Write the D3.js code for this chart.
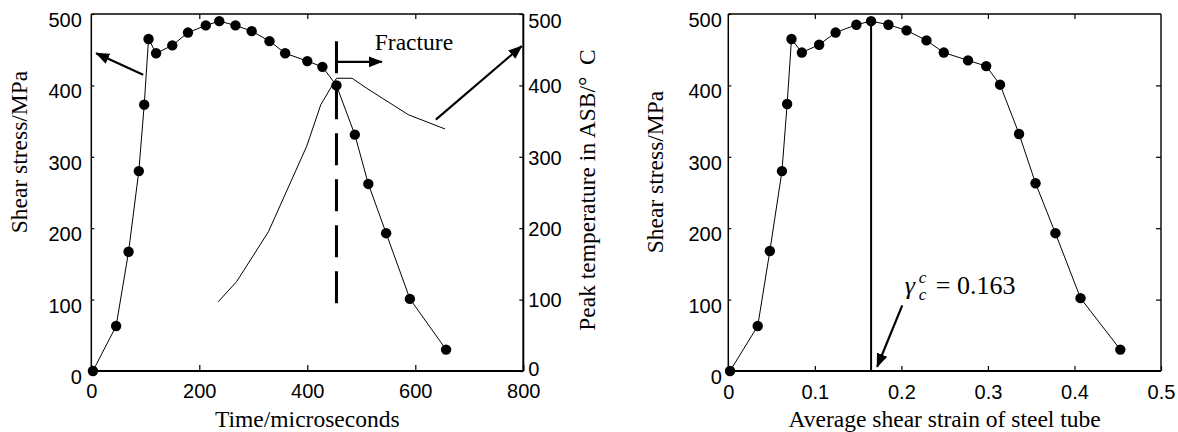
<!DOCTYPE html>
<html>
<head>
<meta charset="utf-8">
<script src="https://cdn.jsdelivr.net/npm/d3@7"></script>
<style>
  body { margin: 0; background: #fff; }
  .tick text { font-family: "Liberation Sans", Arial, sans-serif; font-size: 20px; fill: #000; }
  .title { font-family: "Liberation Serif", "Times New Roman", serif; font-size: 23.5px; fill: #000; }
</style>
</head>
<body>
<script>
// left panel: shear stress vs time, peak temperature vs time
const stressTime = [3, 46, 69, 88, 98, 106, 120, 150, 179, 212, 237, 267, 297, 330, 359, 400, 428, 454, 488, 513, 546, 590, 657];
const stressValue = [0, 63, 167, 280, 373, 465, 445, 456, 474, 484, 490, 484, 476, 462, 445, 434, 426, 400, 331, 262, 193, 101, 30];
const tempTime = [235, 269, 328, 399, 425, 454, 483, 510, 587, 655];
const tempValue = [97, 125, 195, 315, 373, 410, 410, 396, 359, 339];
const fractureTime = 454;

// right panel: shear stress vs average shear strain
const strain = [0.002, 0.034, 0.048, 0.062, 0.068, 0.073, 0.085, 0.105, 0.124, 0.148, 0.165, 0.185, 0.206, 0.229, 0.249, 0.277, 0.298, 0.314, 0.336, 0.355, 0.378, 0.407, 0.453];
const strainStress = [0, 63, 168, 280, 374, 465, 446, 457, 474, 485, 490, 485, 477, 463, 446, 435, 427, 401, 332, 263, 193, 102, 30];
const criticalStrain = 0.165;

const timeTicks = [0, 200, 400, 600, 800];
const stressTicks = [0, 100, 200, 300, 400, 500];
const strainTicks = [0, 0.1, 0.2, 0.3, 0.4, 0.5];

const svg = d3.select('body').append('svg')
  .attr('width', 1178)
  .attr('height', 432);

const defs = svg.append('defs');
defs.append('marker')
  .attr('id', 'head')
  .attr('markerUnits', 'userSpaceOnUse')
  .attr('markerWidth', 14)
  .attr('markerHeight', 11)
  .attr('refX', 13)
  .attr('refY', 5.5)
  .attr('orient', 'auto')
  .append('path')
  .attr('d', 'M0,0 L14,5.5 L0,11 Z')
  .attr('fill', '#000');

const plotTop = 14, plotBottom = 371;

// ---------- left panel ----------
const x1 = d3.scaleLinear().domain([0, 800]).range([91.3, 523.3]);
const y1 = d3.scaleLinear().domain([0, 500]).range([plotBottom, plotTop]);
const yT = d3.scaleLinear().domain([0, 500]).range([plotBottom, plotTop]);

function frame(g, x0, xe, strokeL, strokeB) {
  g.append('line').attr('x1', x0).attr('x2', xe).attr('y1', plotTop).attr('y2', plotTop)
    .attr('stroke', '#000').attr('stroke-width', 1.4);
  g.append('line').attr('x1', x0).attr('x2', xe).attr('y1', plotBottom).attr('y2', plotBottom)
    .attr('stroke', '#000').attr('stroke-width', strokeB);
  g.append('line').attr('x1', x0).attr('x2', x0).attr('y1', plotTop).attr('y2', plotBottom)
    .attr('stroke', '#000').attr('stroke-width', strokeL);
}

function styleAxis(g) {
  g.select('.domain').remove();
  g.selectAll('.tick line').attr('stroke', '#000').attr('stroke-width', 1.2);
}

const left = svg.append('g');
frame(left, x1(0), x1(800), 1.5, 2);
left.append('line').attr('x1', x1(800)).attr('x2', x1(800)).attr('y1', plotTop).attr('y2', plotBottom)
  .attr('stroke', '#000').attr('stroke-width', 2);

left.append('g')
  .attr('transform', `translate(0,${plotBottom})`)
  .call(d3.axisBottom(x1).tickValues(timeTicks).tickSizeInner(-6).tickSizeOuter(0).tickPadding(13))
  .call(styleAxis);
left.append('g')
  .attr('transform', `translate(0,${plotTop})`)
  .call(d3.axisTop(x1).tickValues(timeTicks.slice(1, -1)).tickSizeInner(-5).tickSizeOuter(0).tickFormat(''))
  .call(styleAxis);
left.append('g')
  .attr('transform', `translate(${x1(0)},0)`)
  .call(d3.axisLeft(y1).tickValues(stressTicks).tickSizeInner(-3).tickSizeOuter(0).tickPadding(9.5))
  .call(styleAxis)
  .selectAll('.tick text').attr('dy', '0.62em');
left.append('g')
  .attr('transform', `translate(${x1(800)},0)`)
  .call(d3.axisRight(yT).tickValues(stressTicks).tickSizeInner(-4).tickSizeOuter(0).tickPadding(5))
  .call(styleAxis)
  .selectAll('.tick text').attr('dy', d => d === 500 ? '0.66em' : (d === 0 ? '0.2em' : '0.36em'));

const line1 = d3.line().x((d, i) => x1(stressTime[i])).y(d => y1(d));
left.append('path')
  .datum(stressValue)
  .attr('d', line1)
  .attr('fill', 'none').attr('stroke', '#000').attr('stroke-width', 1);
left.selectAll('circle')
  .data(stressValue)
  .enter()
  .append('circle')
  .attr('cx', (d, i) => x1(stressTime[i]))
  .attr('cy', d => y1(d))
  .attr('r', 5.2)
  .attr('fill', '#000');

const lineT = d3.line().x((d, i) => x1(tempTime[i])).y(d => yT(d));
left.append('path')
  .datum(tempValue)
  .attr('d', lineT)
  .attr('fill', 'none').attr('stroke', '#000').attr('stroke-width', 1);

left.append('line')
  .attr('x1', x1(fractureTime)).attr('x2', x1(fractureTime))
  .attr('y1', y1(462)).attr('y2', y1(81))
  .attr('stroke', '#000').attr('stroke-width', 3)
  .attr('stroke-dasharray', '32,14');

function arrow(g, xs, ys, a, b) {
  g.append('line')
    .attr('x1', xs(a[0])).attr('y1', ys(a[1]))
    .attr('x2', xs(b[0])).attr('y2', ys(b[1]))
    .attr('stroke', '#000').attr('stroke-width', 2.2)
    .attr('marker-end', 'url(#head)');
}
arrow(left, x1, y1, [96, 415], [9, 445]);
arrow(left, x1, y1, [453, 433], [538, 433]);
arrow(left, x1, yT, [638, 352], [797, 455]);

left.append('text').attr('class', 'title')
  .attr('x', x1(525)).attr('y', y1(450))
  .text('Fracture');

left.append('text').attr('class', 'title')
  .attr('text-anchor', 'middle')
  .attr('x', (x1(0) + x1(800)) / 2).attr('y', 427)
  .text('Time/microseconds');
left.append('text').attr('class', 'title')
  .attr('text-anchor', 'middle')
  .attr('transform', 'translate(27,152) rotate(-90)')
  .text('Shear stress/MPa');
left.append('text').attr('class', 'title')
  .attr('text-anchor', 'middle')
  .attr('transform', 'translate(595,190) rotate(-90)')
  .text('Peak temperature in ASB/\u00B0\u00A0\u00A0C');

// ---------- right panel ----------
const x2 = d3.scaleLinear().domain([0, 0.5]).range([728.3, 1161]);
const y2 = d3.scaleLinear().domain([0, 500]).range([plotBottom, plotTop]);

const right = svg.append('g');
frame(right, x2(0), x2(0.5), 1.5, 2);
right.append('line').attr('x1', x2(0.5)).attr('x2', x2(0.5)).attr('y1', plotTop).attr('y2', plotBottom)
  .attr('stroke', '#000').attr('stroke-width', 1.4);

right.append('g')
  .attr('transform', `translate(0,${plotBottom})`)
  .call(d3.axisBottom(x2).tickValues(strainTicks).tickSizeInner(-5).tickSizeOuter(0).tickPadding(14)
    .tickFormat(d => d === 0 ? '0' : d3.format('.1f')(d)))
  .call(styleAxis);
right.append('g')
  .attr('transform', `translate(0,${plotTop})`)
  .call(d3.axisTop(x2).tickValues(strainTicks.slice(1, -1)).tickSizeInner(-5).tickSizeOuter(0).tickFormat(''))
  .call(styleAxis);
right.append('g')
  .attr('transform', `translate(${x2(0)},0)`)
  .call(d3.axisLeft(y2).tickValues(stressTicks).tickSizeInner(-3).tickSizeOuter(0).tickPadding(6.5))
  .call(styleAxis)
  .selectAll('.tick text').attr('dy', '0.62em');
right.append('g')
  .attr('transform', `translate(${x2(0.5)},0)`)
  .call(d3.axisRight(y2).tickValues(stressTicks.slice(1, -1)).tickSizeInner(-5).tickSizeOuter(0).tickFormat(''))
  .call(styleAxis);

right.append('line')
  .attr('x1', x2(criticalStrain)).attr('x2', x2(criticalStrain))
  .attr('y1', y2(490)).attr('y2', y2(0))
  .attr('stroke', '#000').attr('stroke-width', 2);

const line2 = d3.line().x((d, i) => x2(strain[i])).y(d => y2(d));
right.append('path')
  .datum(strainStress)
  .attr('d', line2)
  .attr('fill', 'none').attr('stroke', '#000').attr('stroke-width', 1);
right.selectAll('circle')
  .data(strainStress)
  .enter()
  .append('circle')
  .attr('cx', (d, i) => x2(strain[i]))
  .attr('cy', d => y2(d))
  .attr('r', 5.2)
  .attr('fill', '#000');

arrow(right, x2, y2, [0.201, 92], [0.172, 6]);

const gx = x2(0.204), gy = y2(108);
right.append('text').attr('class', 'title')
  .attr('x', gx).attr('y', gy)
  .style('font-size', '26px').style('font-style', 'italic')
  .text('\u03B3');
right.append('text').attr('class', 'title')
  .attr('x', gx + 14).attr('y', gy - 11)
  .style('font-size', '17px').style('font-style', 'italic')
  .text('c');
right.append('text').attr('class', 'title')
  .attr('x', gx + 14).attr('y', gy + 6)
  .style('font-size', '17px').style('font-style', 'italic')
  .text('c');
right.append('text').attr('class', 'title')
  .attr('x', gx + 31).attr('y', gy)
  .style('font-size', '26px')
  .text('= 0.163');

right.append('text').attr('class', 'title')
  .attr('text-anchor', 'middle')
  .attr('x', (x2(0) + x2(0.5)) / 2).attr('y', 427)
  .text('Average shear strain of steel tube');
right.append('text').attr('class', 'title')
  .attr('text-anchor', 'middle')
  .attr('transform', 'translate(663,172) rotate(-90)')
  .text('Shear stress/MPa');
</script>
</body>
</html>
